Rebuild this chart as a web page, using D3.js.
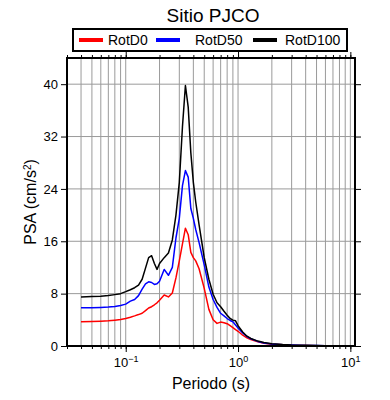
<!DOCTYPE html>
<html>
<head>
<meta charset="utf-8">
<script src="https://cdn.jsdelivr.net/npm/d3@7"></script>
<style>
  body { margin: 0; background: #fff; }
  text { font-family: "Liberation Sans", Arial, Helvetica, sans-serif; fill: #000; }
</style>
</head>
<body>
<div id="chart"></div>
<script>
// data (period in s, PSA in cm/s2)
var periods = [0.04, 0.05, 0.06, 0.07, 0.08, 0.09, 0.1, 0.11, 0.12, 0.13, 0.14, 0.15, 0.16, 0.17, 0.18, 0.19, 0.2,
    0.22, 0.24, 0.26, 0.28, 0.3, 0.32, 0.34, 0.36, 0.38, 0.4, 0.42, 0.45, 0.5, 0.55, 0.6, 0.65, 0.7, 0.75, 0.8,
    0.85, 0.9, 0.95, 1.0, 1.1, 1.2, 1.3, 1.5, 1.7, 2.0, 2.5, 3.0, 4.0, 5.0, 6.0, 8.0, 10.0];
var rotD0 = [3.7, 3.75, 3.8, 3.85, 3.95, 4.05, 4.2, 4.4, 4.6, 4.8, 5.0, 5.4, 5.8, 6.0, 6.3, 6.6, 7.0,
    7.8, 7.5, 8.1, 10.4, 13.0, 15.6, 18.0, 17.0, 14.3, 13.5, 13.0, 11.8, 8.8, 5.6, 4.0, 3.45, 3.65, 3.55, 3.4,
    3.1, 2.8, 2.5, 2.25, 1.65, 1.25, 1.0, 0.65, 0.42, 0.28, 0.18, 0.12, 0.08, 0.05, 0.04, 0.025, 0.02];
var rotD50 = [5.83, 5.85, 5.9, 5.95, 6.05, 6.2, 6.4, 6.85, 7.1, 7.7, 8.7, 9.5, 9.8, 9.7, 9.4, 9.5, 9.9,
    11.7, 10.8, 12.0, 16.5, 19.5, 24.5, 26.8, 25.8, 21.0, 19.5, 17.8, 15.8, 12.4, 9.0, 7.1, 5.9, 5.0, 4.6, 4.2,
    3.9, 3.7, 3.2, 2.75, 2.0, 1.45, 1.1, 0.7, 0.47, 0.3, 0.2, 0.14, 0.09, 0.06, 0.05, 0.03, 0.02];
var rotD100 = [7.5, 7.55, 7.6, 7.7, 7.85, 8.0, 8.3, 8.6, 8.9, 9.3, 10.2, 11.9, 13.5, 13.8, 12.6, 11.7, 12.6,
    13.5, 14.2, 16.2, 20.0, 25.0, 33.5, 39.8, 36.5, 29.5, 25.0, 22.0, 18.5, 13.5, 10.2, 7.9, 6.6, 6.0, 5.3, 4.7,
    4.2, 3.95, 3.85, 3.1, 2.15, 1.5, 1.15, 0.75, 0.55, 0.35, 0.22, 0.15, 0.1, 0.07, 0.05, 0.035, 0.025];

var seriesNames = ["RotD0", "RotD50", "RotD100"];
var seriesColors = ["#ff0000", "#0000ff", "#000000"];
var yTicks = [0, 8, 16, 24, 32, 40];
var xDecades = [0.1, 1, 10];
var xExponents = ["\u22121", "0", "1"];

(function() {
    var width = 390, height = 400;
    var pLeft = 67, pRight = 355, pTop = 58, pBottom = 346;

    var svg = d3.select("#chart").append("svg")
        .attr("width", width)
        .attr("height", height);

    var x = d3.scaleLog().domain([0.03, 11]).range([pLeft, pRight]);
    var y = d3.scaleLinear().domain([0, 44]).range([pBottom, pTop]);

    // grid
    var minor = x.ticks();
    svg.append("g").selectAll("line")
        .data(minor).enter().append("line")
        .attr("x1", function(d) { return x(d); })
        .attr("x2", function(d) { return x(d); })
        .attr("y1", pTop).attr("y2", pBottom)
        .attr("stroke", "#9a9a9a").attr("stroke-width", 1);
    svg.append("g").selectAll("line")
        .data(yTicks.slice(1)).enter().append("line")
        .attr("x1", pLeft).attr("x2", pRight)
        .attr("y1", function(d) { return y(d); })
        .attr("y2", function(d) { return y(d); })
        .attr("stroke", "#9a9a9a").attr("stroke-width", 1);

    // axes
    function styleAxis(g) {
        g.select(".domain").remove();
        g.selectAll(".tick line").attr("stroke", "#000").attr("stroke-width", 1);
    }
    svg.append("g").attr("transform", "translate(0," + pBottom + ")")
        .call(d3.axisBottom(x).tickValues(minor).tickSize(3).tickFormat(""))
        .call(styleAxis);
    svg.append("g").attr("transform", "translate(0," + pTop + ")")
        .call(d3.axisTop(x).tickValues(minor).tickSize(3).tickFormat(""))
        .call(styleAxis);
    svg.append("g").attr("transform", "translate(0," + pTop + ")")
        .call(d3.axisTop(x).tickValues(xDecades).tickSize(6).tickFormat(""))
        .call(styleAxis);
    var xAxis = svg.append("g").attr("transform", "translate(0," + pBottom + ")")
        .call(d3.axisBottom(x).tickValues(xDecades).tickSize(6).tickFormat(""))
        .call(styleAxis);
    xAxis.selectAll(".tick").append("text")
        .attr("y", 21)
        .attr("text-anchor", "middle")
        .attr("font-size", 13)
        .each(function(d, i) {
            var t = d3.select(this);
            t.append("tspan").text("10");
            t.append("tspan").attr("dy", -5).attr("font-size", 9).text(xExponents[i]);
        });

    svg.append("g").attr("transform", "translate(" + pLeft + ",0)")
        .call(d3.axisLeft(y).tickValues(yTicks).tickSize(6).tickPadding(3))
        .call(styleAxis)
        .selectAll("text").attr("font-size", 13).attr("font-family", null);
    svg.append("g").attr("transform", "translate(" + pRight + ",0)")
        .call(d3.axisRight(y).tickValues(yTicks).tickSize(6).tickFormat(""))
        .call(styleAxis);

    // curves
    var line = d3.line()
        .x(function(d) { return x(d[0]); })
        .y(function(d) { return y(d[1]); });
    [rotD0, rotD50, rotD100].forEach(function(vals, i) {
        svg.append("path")
            .datum(periods.map(function(p, j) { return [p, vals[j]]; }))
            .attr("d", line)
            .attr("fill", "none")
            .attr("stroke", seriesColors[i])
            .attr("stroke-width", 1.5)
            .attr("stroke-linejoin", "round");
    });

    // frame
    svg.append("rect")
        .attr("x", pLeft).attr("y", pTop)
        .attr("width", pRight - pLeft).attr("height", pBottom - pTop)
        .attr("fill", "none").attr("stroke", "#000").attr("stroke-width", 2);

    // titles
    svg.append("text")
        .attr("x", 213).attr("y", 22)
        .attr("text-anchor", "middle").attr("font-size", 19)
        .text("Sitio PJCO");
    svg.append("text")
        .attr("x", (pLeft + pRight) / 2).attr("y", 389)
        .attr("text-anchor", "middle").attr("font-size", 16)
        .text("Periodo (s)");
    var yl = svg.append("text")
        .attr("transform", "translate(36," + (pTop + pBottom) / 2 + ") rotate(-90)")
        .attr("text-anchor", "middle").attr("font-size", 16);
    yl.append("tspan").text("PSA (cm/s");
    yl.append("tspan").attr("dy", -5).attr("font-size", 10).text("2");
    yl.append("tspan").attr("dy", 5).text(")");

    // legend
    var legend = svg.append("g");
    legend.append("rect")
        .attr("x", 73).attr("y", 29).attr("width", 274).attr("height", 22)
        .attr("fill", "#fff").attr("stroke", "#000").attr("stroke-width", 2);
    var legX = [79, 156, 253];
    var textX = [108, 195, 285];
    seriesNames.forEach(function(name, i) {
        legend.append("line")
            .attr("x1", legX[i]).attr("x2", legX[i] + 24)
            .attr("y1", 40).attr("y2", 40)
            .attr("stroke", seriesColors[i]).attr("stroke-width", 4);
        legend.append("text")
            .attr("x", textX[i]).attr("y", 45)
            .attr("font-size", 14)
            .text(name);
    });
})();
</script>
</body>
</html>
